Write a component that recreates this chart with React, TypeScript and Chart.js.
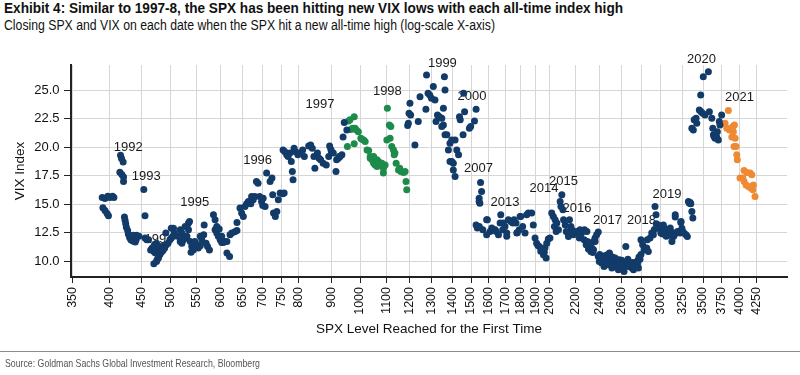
import React, { useEffect, useLayoutEffect, useRef } from "react";
import { Chart, registerables } from "chart.js";

Chart.register(...registerables);

// ---------- data ----------
const xTickValues = [350, 400, 450, 500, 550, 600, 650, 700, 750, 800, 900, 1000, 1100, 1200, 1300, 1400, 1500, 1600, 1700, 1800, 1900, 2000, 2200, 2400, 2600, 2800, 3000, 3250, 3500, 3750, 4000, 4250];
const yTickValues = [10, 12.5, 15, 17.5, 20, 22.5, 25];

// [SPX level, VIX close] — 1991–1997 (blue)
const blueEarly: number[][] = [
  [390, 15.6], [394, 15.5], [398, 15.7], [401, 15.6], [405, 15.7], [407, 15.6],
  [391, 14.7], [394, 14.45], [397, 14.2], [399, 14.0],
  [417, 19.3], [418.5, 19.0], [421, 18.7], [416, 17.8], [419, 17.6], [421.6, 17.4], [421.6, 17.0],
  [454, 16.3], [456, 14.0],
  [423, 13.9], [424, 13.6], [425, 13.3], [426, 13.0], [428, 12.7], [429, 12.4], [431, 12.1], [433, 11.9], [436, 11.8], [440, 11.7], [436.5, 12.05], [441.5, 11.9],
  [437, 12.3], [442, 12.3], [446, 12.2], [456, 12.05], [459, 11.9], [462, 11.9],
  [465.5, 11.0], [468, 11.17], [471, 10.87], [473.5, 10.73], [476.5, 11.02], [479, 11.08], [472, 11.46], [475.6, 11.6], [481.5, 11.3],
  [471, 9.8], [475.6, 10.0], [476.5, 10.15], [479, 10.3], [479, 10.6], [481.5, 10.6], [484, 10.8], [487, 10.95], [487, 11.3],
  [490, 11.17], [492, 12.5], [493, 11.46], [496, 11.6], [499.5, 11.9], [501.9, 12.9], [502, 12.05], [505, 12.2], [506, 12.9], [507.5, 12.5],
  [513.4, 12.2], [518.6, 11.75], [518.6, 12.77], [521.8, 11.6], [521.8, 12.5], [524.9, 11.9], [525, 12.2], [528, 12.05], [528, 13.06], [531.4, 12.2], [531.4, 13.06], [534.5, 12.77], [534.5, 13.36], [536.5, 13.5],
  [538, 11.75], [541, 11.3], [544, 11.0], [539.5, 10.8],
  [547, 11.6], [547, 11.75], [550.5, 11.46], [554, 11.17], [558, 11.37], [558, 12.2], [561, 11.9], [565, 12.33], [566, 13.2],
  [570, 11.6], [573, 11.3], [577, 11.0],
  [585.5, 14.08], [589, 13.65], [589, 12.77], [592.6, 12.5], [592.6, 13.06], [596, 12.2], [598, 12.83],
  [600, 11.9], [603.4, 11.66], [603.4, 12.2], [607, 11.66], [611, 11.75], [615, 10.73], [615, 11.75], [621, 10.44], [622, 12.33],
  [626, 12.48], [633, 12.6], [638, 12.7], [638, 13.4], [645, 14.67], [649, 14.23], [653, 13.93], [657, 14.8], [661, 15.04], [665, 15.25], [671, 15.04], [673, 15.68], [677, 15.4], [681, 15.68], [685, 17.0], [689, 16.85], [693, 15.68], [698, 15.25], [702, 15.54], [701, 14.9], [707, 14.8], [711, 17.73], [720, 17.0], [725, 17.3], [727, 15.83], [729, 14.23], [734, 13.93], [738, 14.37], [742, 15.4], [747, 15.98], [754, 15.92], [758, 15.98],
  [755, 19.76], [760, 19.6], [765, 19.33], [769, 19.18], [774, 19.48], [778, 18.74], [781, 17.87], [783, 17.14], [786, 19.9], [790, 19.6], [797, 19.33], [803, 19.48], [811, 19.76], [816, 19.18], [829, 20.1], [835, 20.2], [840, 19.9], [845, 19.18], [848, 18.16], [856, 19.48], [861, 19.04], [866, 18.9], [874, 18.6], [884, 18.45], [892, 19.18], [895, 20.1], [899, 19.8], [901, 19.6], [907, 19.48], [916, 17.87], [918, 18.9], [924, 19.04], [927, 19.18], [930, 19.18], [936, 19.33], [940, 20.9], [944, 22.15], [953, 21.5],
];

// 1997–1998 (green)
const green9798: number[][] = [
  [955, 20.05], [959, 22.3], [964, 22.4], [967, 21.55], [973, 21.66], [979, 22.67], [979, 20.3], [982, 21.66], [987, 21.5], [994, 21.36],
  [1003, 20.78], [1007, 20.7], [1013, 20.63], [1019, 20.5], [1026, 19.76], [1032, 19.7], [1038, 19.04], [1038, 19.18], [1045, 18.9], [1051, 19.18], [1051, 18.6],
  [1057, 18.45], [1064, 18.9], [1064, 18.3], [1070, 18.74], [1077, 18.45], [1083, 18.6], [1089, 17.73], [1089, 18.16], [1096, 18.45],
  [1103, 20.63], [1105, 23.4], [1113, 21.95], [1116, 20.78], [1119, 21.8], [1123, 20.05], [1130, 19.76], [1133, 19.33], [1136, 19.48], [1141, 18.6],
  [1151, 18.0], [1156, 18.16], [1161, 17.87], [1172, 17.78], [1179, 17.87], [1183, 17.0], [1186, 16.27],
];

// 1998–2020 (blue)
const blueLate: number[][] = [
  [1190, 21.9], [1193, 22.1], [1196, 22.97], [1200, 23.85], [1203, 22.82], [1222, 20.2], [1237, 22.24], [1245, 24.42], [1272, 23.32], [1275, 26.32], [1282, 24.72], [1290, 24.57], [1298, 24.28], [1307, 25.3], [1315, 24.13], [1320, 22.24], [1327, 22.82], [1336, 22.67], [1348, 22.53], [1348, 21.8], [1356, 21.95], [1356, 23.4], [1361, 26.17], [1364, 25.0], [1364, 21.08], [1373, 21.08], [1381, 19.76], [1389, 20.35], [1389, 18.74], [1398, 20.63], [1398, 18.74], [1406, 18.0], [1406, 18.6], [1415, 17.43], [1415, 20.63], [1424, 19.76], [1433, 19.33], [1438, 22.67], [1442, 22.39], [1460, 24.72], [1465, 23.11], [1457, 21.08], [1491, 21.66], [1498, 21.8], [1519, 22.3], [1528, 23.32],
  [1545, 15.54], [1545, 15.25], [1549, 15.1], [1553, 16.9], [1559, 16.12],
  [1528, 13.2], [1535, 12.92], [1546, 13.06], [1566, 12.77], [1588, 12.33], [1588, 13.65], [1592, 13.65], [1608, 12.62], [1618, 12.92], [1628, 12.77], [1638, 12.77], [1644, 12.62], [1658, 12.33], [1668, 13.36], [1672, 14.08], [1684, 12.77], [1688, 13.36], [1698, 13.06], [1709, 12.48], [1709, 12.2], [1719, 13.65], [1734, 13.5], [1741, 13.5], [1747, 13.36], [1755, 13.65], [1768, 13.36], [1773, 12.48], [1776, 12.53], [1789, 12.77], [1794, 13.93], [1798, 13.93], [1811, 13.06], [1827, 12.48], [1838, 14.08], [1849, 14.23], [1872, 14.23], [1883, 13.2],
  [1895, 12.05], [1906, 11.6], [1915, 11.4], [1925, 11.31], [1935, 10.9], [1942, 11.02], [1954, 10.59], [1960, 10.8], [1965, 11.2], [1973, 10.3], [1978, 11.6], [1989, 11.96], [2001, 12.05],
  [2014, 14.23], [2026, 13.93], [2039, 13.65], [2034, 13.06], [2047, 12.62], [2052, 13.36], [2064, 12.77], [2077, 15.25], [2083, 14.8], [2090, 15.83], [2098, 14.52], [2103, 13.65], [2116, 13.2], [2124, 12.62], [2137, 12.48], [2141, 12.19], [2149, 13.65], [2160, 13.06], [2168, 12.77], [2180, 12.33], [2193, 12.48], [2206, 12.62], [2219, 12.62], [2228, 12.05], [2233, 12.77], [2240, 12.33], [2257, 12.62], [2261, 12.7], [2267, 11.9], [2270, 12.77], [2284, 11.46], [2290, 12.62], [2295, 11.75], [2303, 11.08], [2312, 11.31], [2323, 10.87], [2332, 11.17], [2340, 10.79], [2346, 11.02], [2345, 11.75], [2359, 12.05], [2360, 11.75], [2373, 12.33], [2387, 12.57],
  [2387, 10.44], [2396, 10.0], [2400, 10.6], [2408, 10.3], [2417, 9.86], [2420, 10.4], [2432, 10.15], [2438, 9.56], [2445, 10.5], [2450, 9.9], [2457, 10.0], [2468, 10.59], [2477, 9.71], [2487, 10.73], [2490, 10.0], [2500, 10.15], [2509, 9.42], [2515, 10.4], [2523, 9.86], [2530, 9.6], [2539, 10.3], [2545, 10.1], [2554, 9.71], [2560, 10.0], [2569, 9.27], [2578, 10.15], [2585, 9.9], [2591, 9.56], [2600, 10.1], [2610, 9.86], [2615, 9.5], [2623, 9.13], [2630, 9.7], [2640, 11.31], [2650, 10.0], [2660, 10.2], [2665, 9.56], [2682, 9.86], [2690, 9.6], [2699, 9.42], [2705, 9.9], [2715, 9.27], [2731, 9.71], [2740, 9.5], [2748, 10.0], [2755, 9.8], [2764, 10.15], [2764, 9.42], [2770, 10.4], [2780, 10.2], [2790, 10.6],
  [2790, 11.9], [2807, 11.46], [2821, 11.0], [2849, 11.17], [2866, 10.87], [2856, 11.9], [2884, 12.05], [2902, 12.48], [2919, 12.33], [2930, 12.8], [2937, 14.8], [2948, 14.08], [2950, 13.3], [2961, 12.92], [2972, 13.2], [2990, 13.06], [3000, 12.5], [3009, 12.77], [3020, 12.4], [3028, 13.2], [3040, 12.9], [3048, 12.48], [3060, 12.2], [3067, 12.77], [3080, 12.6], [3085, 12.33], [3100, 12.3], [3105, 12.92], [3115, 12.6], [3124, 11.75], [3142, 12.19], [3150, 12.3], [3162, 14.08], [3162, 13.9], [3173, 12.48], [3188, 12.62], [3200, 12.6], [3219, 12.48], [3227, 13.4], [3230, 13.5], [3240, 12.9], [3249, 12.62], [3265, 12.48], [3289, 12.33], [3305, 12.19],
  [3318, 15.25], [3330, 15.1], [3340, 15.15], [3347, 15.04], [3360, 14.37], [3372, 13.8],
  [3360, 21.66], [3378, 21.5], [3388, 22.39], [3412, 22.53], [3421, 22.1], [3453, 23.26], [3470, 24.57], [3474, 23.11], [3503, 26.17], [3495, 22.97], [3525, 22.82], [3569, 26.6], [3582, 23.11], [3614, 22.53], [3627, 21.66], [3635, 21.08], [3644, 20.93], [3657, 20.78], [3680, 20.87], [3688, 21.36], [3701, 20.63], [3714, 22.24], [3723, 21.95], [3746, 22.82],
];

// 2021 (orange)
const orange2021: number[][] = [
  [3793, 22.1], [3839, 23.2], [3817, 21.66], [3855, 21.5], [3879, 21.66], [3903, 21.8], [3910, 21.36], [3888, 20.9], [3925, 21.95], [3935, 20.78], [3920, 20.05], [3949, 20.05], [3959, 19.33], [3967, 18.9],
  [4006, 17.3], [4047, 17.3], [4066, 17.0], [4066, 17.95], [4096, 16.7], [4107, 17.78], [4157, 17.73], [4182, 17.58], [4131, 16.56], [4167, 16.42], [4197, 16.27], [4206, 16.7], [4232, 15.68],
];

const yearText = ["1992", "1993", "1994", "1995", "1996", "1997", "1998", "1999", "2000", "2007", "2013", "2014", "2015", "2016", "2017", "2018", "2019", "2020", "2021"];
const yearSpx = [429, 458, 480, 547, 688, 864, 1105, 1351, 1505, 1541, 1698, 1958, 2102, 2209, 2469, 2795, 3068, 3480, 3998];
const yearVix = [20.0, 17.4, 11.9, 15.13, 18.8, 23.78, 24.92, 27.37, 24.4, 18.1, 15.13, 16.35, 16.97, 14.61, 13.56, 13.56, 15.83, 27.72, 24.31];

const NAVY = "#123b69";
const GREEN = "#1d8b4a";
const ORANGE = "#ef8a33";
const FONT = '"Liberation Sans", Arial, Helvetica, sans-serif';

const toPts = (arr: number[][]) => arr.map(([x, y]) => ({ x, y }));

const yearLabelPlugin = {
  id: "yearLabels",
  beforeDatasetsDraw(chart: any) {
    const { ctx, scales } = chart;
    const xs = scales.x;
    const ys = scales.y;
    ctx.save();
    ctx.font = `13px ${FONT}`;
    ctx.fillStyle = "#1a1a1a";
    ctx.textAlign = "center";
    ctx.textBaseline = "middle";
    yearText.forEach((t, i) => {
      ctx.fillText(t, xs.getPixelForValue(yearSpx[i]), ys.getPixelForValue(yearVix[i]));
    });
    ctx.restore();
  },
};

// squeeze a text block horizontally to mimic the condensed font of the original
function fitWidth(el: HTMLElement | null, target: number) {
  if (!el) return;
  el.style.transform = "none";
  const w = el.getBoundingClientRect().width;
  if (w > 0) {
    el.style.transformOrigin = "left top";
    el.style.transform = `scaleX(${target / w})`;
  }
}

export default function App() {
  const canvasRef = useRef<HTMLCanvasElement | null>(null);
  const titleRef = useRef<HTMLDivElement | null>(null);
  const subRef = useRef<HTMLDivElement | null>(null);
  const srcRef = useRef<HTMLDivElement | null>(null);

  useLayoutEffect(() => {
    fitWidth(titleRef.current, 619);
    fitWidth(subRef.current, 491);
    fitWidth(srcRef.current, 255);
  }, []);

  useEffect(() => {
    if (!canvasRef.current) return;
    const ds = (data: number[][], color: string) => ({
      data: toPts(data),
      backgroundColor: color,
      borderColor: color,
      borderWidth: 0,
      pointRadius: 3.5,
      pointHoverRadius: 3.5,
    });
    const chart = new Chart(canvasRef.current, {
      type: "scatter",
      data: {
        datasets: [ds(blueEarly, NAVY), ds(green9798, GREEN), ds(blueLate, NAVY), ds(orange2021, ORANGE)],
      },
      plugins: [yearLabelPlugin],
      options: {
        animation: false,
        responsive: false,
        maintainAspectRatio: false,
        layout: { padding: { left: 12, right: 13, top: 65, bottom: 38 } },
        plugins: { legend: { display: false }, tooltip: { enabled: false } },
        scales: {
          x: {
            type: "logarithmic",
            min: 348,
            max: 4756,
            afterBuildTicks: (ax: any) => {
              ax.ticks = xTickValues.map((v) => ({ value: v }));
            },
            afterFit: (ax: any) => {
              ax.height = 60;
            },
            ticks: {
              autoSkip: false,
              minRotation: 90,
              maxRotation: 90,
              padding: 4,
              color: "#111",
              font: { family: FONT, size: 12.5 },
              callback: (v: any) => String(v),
            },
            grid: { color: "#d6d6d6", lineWidth: 1, tickColor: "#222", tickLength: 6, drawTicks: true },
            border: { color: "#222", width: 2 },
            title: {
              display: true,
              text: "SPX Level Reached for the First Time",
              color: "#111",
              font: { family: FONT, size: 13.5 },
              padding: 0,
            },
          },
          y: {
            type: "linear",
            min: 8.64,
            max: 27.19,
            afterBuildTicks: (ax: any) => {
              ax.ticks = yTickValues.map((v) => ({ value: v }));
            },
            afterFit: (ax: any) => {
              ax.width = 59;
            },
            ticks: {
              padding: 4.5,
              color: "#111",
              font: { family: FONT, size: 13 },
              callback: (v: any) => Number(v).toFixed(1),
            },
            grid: { color: "#d6d6d6", lineWidth: 1, tickColor: "#222", tickLength: 7, drawTicks: true },
            border: { color: "#222", width: 2 },
            title: {
              display: true,
              text: "VIX Index",
              color: "#111",
              font: { family: FONT, size: 13.5 },
              padding: 0,
            },
          },
        },
      },
    } as any);
    return () => chart.destroy();
  }, []);

  return (
    <div style={{ position: "fixed", left: 0, top: 0, width: 800, height: 375, background: "#fff", overflow: "hidden" }}>
      <div ref={titleRef} style={{ position: "absolute", left: 4, top: 0, font: `bold 14px ${FONT}`, color: "#111", whiteSpace: "nowrap" }}>
        Exhibit 4: Similar to 1997-8, the SPX has been hitting new VIX lows with each all-time index high
      </div>
      <div ref={subRef} style={{ position: "absolute", left: 4, top: 17, font: `14px ${FONT}`, color: "#111", whiteSpace: "nowrap" }}>
        Closing SPX and VIX on each date when the SPX hit a new all-time high (log-scale X-axis)
      </div>
      <canvas ref={canvasRef} width={800} height={375} style={{ position: "absolute", left: 0, top: 0, width: 800, height: 375 }} />
      <div style={{ position: "absolute", left: 0, top: 351, width: 800, height: 1, background: "#8c8c8c" }} />
      <div ref={srcRef} style={{ position: "absolute", left: 5, top: 357, font: `11px ${FONT}`, color: "#555", whiteSpace: "nowrap" }}>
        Source: Goldman Sachs Global Investment Research, Bloomberg
      </div>
    </div>
  );
}
